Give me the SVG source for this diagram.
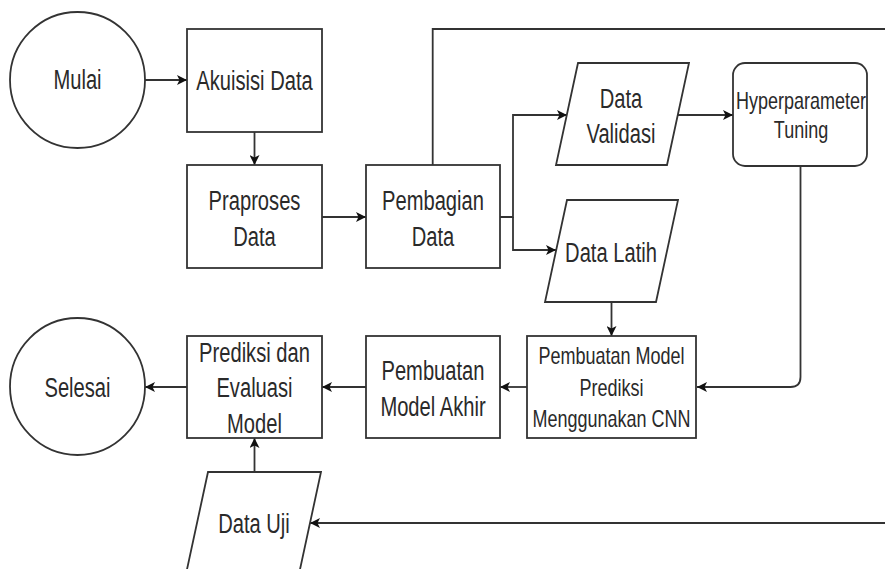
<svg xmlns="http://www.w3.org/2000/svg" width="885" height="569" viewBox="0 0 885 569">
  <style>
    .shape { fill: #ffffff; stroke: #333333; stroke-width: 1.8; }
    .edge { fill: none; stroke: #333333; stroke-width: 1.8; }
    .lbl { font-family: "Liberation Sans", Arial, Helvetica, sans-serif; font-size: 28px; fill: #2a2a2a; text-anchor: middle; }
    .lbl.small { font-size: 24px; }
  </style>
  <defs>
    <marker id="arrow" viewBox="0 0 10 10" refX="10" refY="5" markerWidth="11" markerHeight="10" markerUnits="userSpaceOnUse" orient="auto">
      <path d="M0,0 L10,5 L0,10 L2.5,5 z" fill="#111111"/>
    </marker>
  </defs>
  <rect width="885" height="569" fill="#ffffff"/>

  <!-- connectors -->
  <g id="edges">
    <path class="edge" d="M145,80 L187,80" marker-end="url(#arrow)"/>
    <path class="edge" d="M254.5,132 L254.5,165" marker-end="url(#arrow)"/>
    <path class="edge" d="M322,217 L366,217" marker-end="url(#arrow)"/>
    <path class="edge" d="M500,217 L513,217 L513,115 L567,115" marker-end="url(#arrow)"/>
    <path class="edge" d="M513,217 L513,250 L556,250" marker-end="url(#arrow)"/>
    <path class="edge" d="M678,115 L733,115" marker-end="url(#arrow)"/>
    <path class="edge" d="M800.5,166 L800.5,377 Q800.5,387 790.5,387 L697,387" marker-end="url(#arrow)"/>
    <path class="edge" d="M611.5,302 L611.5,336" marker-end="url(#arrow)"/>
    <path class="edge" d="M527,387 L500,387" marker-end="url(#arrow)"/>
    <path class="edge" d="M366,387 L322,387" marker-end="url(#arrow)"/>
    <path class="edge" d="M187,387 L145,387" marker-end="url(#arrow)"/>
    <path class="edge" d="M254.5,472 L254.5,438" marker-end="url(#arrow)"/>
    <path class="edge" d="M432.7,165 L432.7,29 L886,29"/>
    <path class="edge" d="M886,523 L310,523" marker-end="url(#arrow)"/>
  </g>

  <g id="mulai">
    <ellipse class="shape" cx="77.5" cy="80" rx="67.5" ry="68"/>
    <text class="lbl" transform="translate(77.5,89.3) scale(0.72,1)">Mulai</text>
  </g>

  <g id="akuisisi-data">
    <rect class="shape" x="187" y="29" width="135" height="103"/>
    <text class="lbl" transform="translate(254.5,90) scale(0.72,1)">Akuisisi Data</text>
  </g>

  <g id="praproses-data">
    <rect class="shape" x="187" y="165" width="135" height="103"/>
    <text class="lbl" transform="translate(254.5,210) scale(0.72,1)"><tspan x="0" y="0">Praproses</tspan><tspan x="0" y="36.5">Data</tspan></text>
  </g>

  <g id="pembagian-data">
    <rect class="shape" x="366" y="165" width="134" height="103"/>
    <text class="lbl" transform="translate(433,210) scale(0.72,1)"><tspan x="0" y="0">Pembagian</tspan><tspan x="0" y="36.5">Data</tspan></text>
  </g>

  <g id="data-validasi">
    <polygon class="shape" points="578,63 689,63 667,165 556,165"/>
    <text class="lbl" transform="translate(621,108.3) scale(0.72,1)"><tspan x="0" y="0">Data</tspan><tspan x="0" y="35">Validasi</tspan></text>
  </g>

  <g id="data-latih">
    <polygon class="shape" points="567,200 678,200 656,302 545,302"/>
    <text class="lbl" transform="translate(611,261.7) scale(0.72,1)">Data Latih</text>
  </g>

  <g id="hyperparameter-tuning">
    <rect class="shape" x="733" y="63" width="134" height="103" rx="12" ry="12"/>
    <text class="lbl small" transform="translate(801,108.5) scale(0.75,1)"><tspan x="0" y="0">Hyperparameter</tspan><tspan x="0" y="30">Tuning</tspan></text>
  </g>

  <g id="pembuatan-model-prediksi">
    <rect class="shape" x="527" y="336" width="169" height="102"/>
    <text class="lbl small" transform="translate(611.5,364.3) scale(0.75,1)"><tspan x="0" y="0">Pembuatan Model</tspan><tspan x="0" y="31.5">Prediksi</tspan><tspan x="0" y="62.7">Menggunakan CNN</tspan></text>
  </g>

  <g id="pembuatan-model-akhir">
    <rect class="shape" x="366" y="336" width="134" height="102"/>
    <text class="lbl" transform="translate(433,380) scale(0.72,1)"><tspan x="0" y="0">Pembuatan</tspan><tspan x="0" y="36">Model Akhir</tspan></text>
  </g>

  <g id="prediksi-evaluasi">
    <rect class="shape" x="187" y="336" width="135" height="102"/>
    <text class="lbl" transform="translate(254.5,361.7) scale(0.72,1)"><tspan x="0" y="0">Prediksi dan</tspan><tspan x="0" y="35.6">Evaluasi</tspan><tspan x="0" y="71.3">Model</tspan></text>
  </g>

  <g id="selesai">
    <ellipse class="shape" cx="77.5" cy="386.5" rx="67.5" ry="68.5"/>
    <text class="lbl" transform="translate(77.5,397.3) scale(0.72,1)">Selesai</text>
  </g>

  <g id="data-uji">
    <polygon class="shape" points="208,472 321,472 299,574 186,574"/>
    <text class="lbl" transform="translate(254,532.7) scale(0.72,1)">Data Uji</text>
  </g>
</svg>
